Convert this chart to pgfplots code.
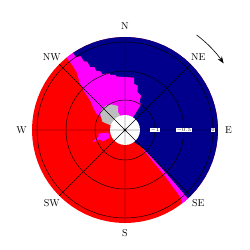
\documentclass[border=0pt]{standalone}
\usepackage{pgfplots}
\pgfplotsset{compat=1.18}
\usepgfplotslibrary{polar}
\usetikzlibrary{arrows.meta}
\definecolor{navyb}{RGB}{0,0,140}
\definecolor{grayb}{RGB}{190,190,190}
\definecolor{redb}{RGB}{255,0,0}
\definecolor{magb}{RGB}{255,0,255}
\begin{document}
\begin{tikzpicture}
\begin{polaraxis}[
 width=186pt, height=186pt, scale only axis,
 ymin=0, ymax=93,
 xtick={0,45,...,315}, xticklabels={},
 ytick={30,59,88}, yticklabels={$-1$,$-0.5$,$0$},
 grid=major, major grid style={black, line width=0.45pt},
 axis line style={draw=none},
 axis on top,
 tick style={draw=none},
 yticklabel style={font=\fontsize{3.5}{4}\selectfont, fill=white, inner sep=0.4pt, anchor=center},
 clip=false,
]
\coordinate (c) at (axis cs:0,0);
% red base disk
\addplot[fill=redb, draw=none] coordinates {
(0,93) (5,93) (10,93) (15,93) (20,93) (25,93) (30,93) (35,93) (40,93) (45,93)
(50,93) (55,93) (60,93) (65,93) (70,93) (75,93) (80,93) (85,93) (90,93) (95,93)
(100,93) (105,93) (110,93) (115,93) (120,93) (125,93) (130,93) (135,93) (140,93) (145,93)
(150,93) (155,93) (160,93) (165,93) (170,93) (175,93) (180,93) (185,93) (190,93) (195,93)
(200,93) (205,93) (210,93) (215,93) (220,93) (225,93) (230,93) (235,93) (240,93) (245,93)
(250,93) (255,93) (260,93) (265,93) (270,93) (275,93) (280,93) (285,93) (290,93) (295,93)
(300,93) (305,93) (310,93) (315,93) (320,93) (325,93) (330,93) (335,93) (340,93) (345,93)
(350,93) (355,93) (360,93)};
% blue region
\addplot[fill=navyb, draw=none] coordinates {
(0,0) (-53,15) (-45,26) (-46.5,60) (-47.5,93) (-45,93) (-40,93) (-35,93) (-30,93) (-25,93)
(-20,93) (-15,93) (-10,93) (-5,93) (0,93) (5,93) (10,93) (15,93) (20,93) (25,93)
(30,93) (35,93) (40,93) (45,93) (50,93) (55,93) (60,93) (65,93) (70,93) (75,93)
(80,93) (85,93) (90,93) (95,93) (100,93) (105,93) (110,93) (115,93) (120,93) (124,93)
(124,88) (121,86) (121,80) (119,78) (119,72) (116,70) (116,66) (113,64) (112,60) (105,59)
(105,57) (100,56) (99,54) (90,53) (80,53) (79,47) (74,46) (72,40) (65,38) (63,32)
(58,30) (58,15) (0,0)};
% magenta NW region
\addplot[fill=magb, draw=none] coordinates {
(0,0) (58,15) (58,30) (63,32) (65,38) (72,40) (74,46) (79,47) (80,53) (90,53)
(99,54) (100,56) (105,57) (105,59) (112,60) (113,64) (116,66) (116,70) (119,72) (119,78)
(121,80) (121,86) (124,88) (124,93) (126.5,93) (129,93) (129,84) (130,75) (134,65) (137,55)
(140,45) (146,38) (151,32) (152,15) (0,0)};
% magenta SE strip
\addplot[fill=magb, draw=none] coordinates {
(-45,26) (-46.5,60) (-47.5,93) (-50,93) (-52,93) (-50.5,88) (-49,60) (-47,26)};
% magenta SW patch
\addplot[fill=magb, draw=none] coordinates {
(188,17) (188,27) (194,27) (199,34) (201,34) (200,27) (207,25) (207,17)};
% gray region
\addplot[fill=grayb, draw=none] coordinates {
(0,0) (108,15) (111,19) (106,25) (113,27) (118,29) (128,31) (137,31) (146,30) (152,27)
(160,24) (162,15) (0,0)};
% white hole
\addplot[fill=white, draw=none] coordinates {
(0,15) (15,15) (30,15) (45,15) (60,15) (75,15) (90,15) (105,15) (120,15) (135,15)
(150,15) (165,15) (180,15) (195,15) (210,15) (225,15) (240,15) (255,15) (270,15) (285,15)
(300,15) (315,15) (330,15) (345,15) (360,15)};
\node at (axis cs:0,103.5) {E};
\node at (axis cs:45,103.5) {NE};
\node at (axis cs:90,103.5) {N};
\node at (axis cs:135,103.5) {NW};
\node at (axis cs:180,103.5) {W};
\node at (axis cs:225,103.5) {SW};
\node at (axis cs:270,103.5) {S};
\node at (axis cs:315,103.5) {SE};
\end{polaraxis}
\fill (c) circle (1.3pt);
\draw[line width=0.6pt, -{Stealth[length=7pt,width=5pt]}] ([shift={(53:119pt)}]c) arc[start angle=53, end angle=34, radius=119pt];
\path (c) ++(-125pt,-120pt) rectangle ++(250pt,250pt);
\end{tikzpicture}
\end{document}
